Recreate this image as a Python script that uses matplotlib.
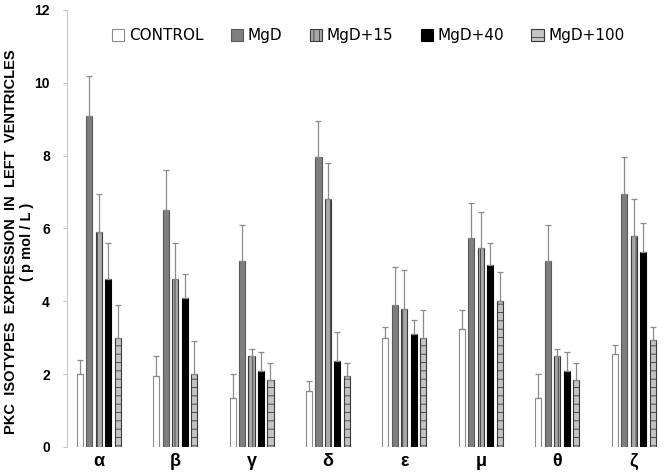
import numpy as np
import matplotlib
matplotlib.use('Agg')
import matplotlib.pyplot as plt

# 数据
isotypes = ['α', 'β', 'γ', 'δ', 'ε', 'μ', 'θ', 'ζ']
groups = ['CONTROL', 'MgD', 'MgD+15', 'MgD+40', 'MgD+100']

control = [2.0, 1.95, 1.35, 1.55, 3.0, 3.25, 1.35, 2.55]
mgd = [9.1, 6.5, 5.1, 7.95, 3.9, 5.75, 5.1, 6.95]
mgd15 = [5.9, 4.6, 2.5, 6.8, 3.8, 5.45, 2.5, 5.8]
mgd40 = [4.6, 4.1, 2.1, 2.35, 3.1, 5.0, 2.1, 5.35]
mgd100 = [3.0, 2.0, 1.85, 1.95, 3.0, 4.0, 1.85, 2.95]

err_control = [0.4, 0.55, 0.65, 0.25, 0.3, 0.5, 0.65, 0.25]
err_mgd = [1.1, 1.1, 1.0, 1.0, 1.05, 0.95, 1.0, 1.0]
err_mgd15 = [1.05, 1.0, 0.2, 1.0, 1.05, 1.0, 0.2, 1.0]
err_mgd40 = [1.0, 0.65, 0.5, 0.8, 0.4, 0.6, 0.5, 0.8]
err_mgd100 = [0.9, 0.9, 0.45, 0.35, 0.75, 0.8, 0.45, 0.35]

values = [control, mgd, mgd15, mgd40, mgd100]
errors = [err_control, err_mgd, err_mgd15, err_mgd40, err_mgd100]

# 样式
faces = ['white', '#7f7f7f', '#a8a8a8', 'black', '#c4c4c4']
edges = ['#8c8c8c', '#5a5a5a', '#3a3a3a', 'black', '#3a3a3a']
hatches = [None, None, '|||', None, '--']

plt.rcParams['hatch.color'] = '#666666'
plt.rcParams['hatch.linewidth'] = 0.6

fig = plt.figure(figsize=(6.66, 4.74), dpi=100)
ax = fig.add_axes([0.1, 0.057, 0.895, 0.922])

x = np.arange(len(isotypes))
w = 0.08
step = 0.124
for i in range(5):
    pos = x + (i - 2) * step
    ax.bar(pos, values[i], width=w, color=faces[i], edgecolor=edges[i],
           linewidth=0.8, hatch=hatches[i], label=groups[i])
    ax.errorbar(pos, values[i], yerr=[np.zeros(len(x)), errors[i]], fmt='none',
                ecolor='#8a8a8a', elinewidth=0.9, capsize=2.2, capthick=0.9)

ax.set_xlim(-0.42, 7.38)
ax.set_ylim(0, 12)
ax.set_yticks(range(0, 13, 2))
ax.set_xticks(x)
ax.set_xticklabels(isotypes, fontsize=13, fontweight='bold', family='Liberation Sans')
for lab in ax.get_yticklabels():
    lab.set_fontweight('bold')
    lab.set_fontsize(10)
    lab.set_family('Liberation Sans')
ax.tick_params(axis='x', length=0, pad=4)
ax.tick_params(axis='y', length=3, color='#c8c8c8', pad=9)
for s in ['top', 'right', 'bottom']:
    ax.spines[s].set_visible(False)
ax.spines['left'].set_color('#c8c8c8')
ax.set_ylabel('PKC  ISOTYPES  EXPRESSION  IN  LEFT  VENTRICLES\n( p mol / L )',
              fontsize=10.5, fontweight='bold', family='Liberation Sans',
              linespacing=1.15)
ax.yaxis.set_label_coords(-0.055, 0.47)

ax.legend(loc='upper center', bbox_to_anchor=(0.506, 0.99), ncol=5, frameon=False,
          fontsize=11, handlelength=0.8, handleheight=0.8, handletextpad=0.3,
          columnspacing=1.8)

fig.savefig('out.png', dpi=100)
